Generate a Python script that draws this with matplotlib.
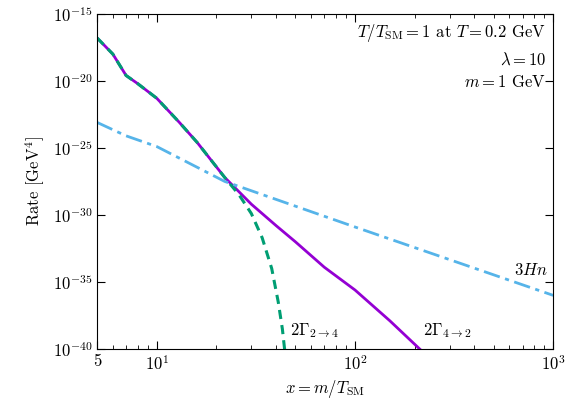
import numpy as np
import matplotlib.pyplot as plt

plt.rcParams['font.family'] = 'cmr10'
plt.rcParams['mathtext.fontset'] = 'cm'
plt.rcParams['axes.formatter.use_mathtext'] = True

# log10 values
x_42 = [5, 6, 7, 8, 10, 13, 16, 22, 30, 40, 50, 70, 100, 150, 212]
logy_42 = [-16.8, -18.0, -19.6, -20.2, -21.3, -23.1, -24.6, -27.2, -29.2, -30.8, -32.0, -33.9, -35.6, -37.9, -40.0]

x_24 = [5, 6, 7, 8, 10, 13, 16, 22, 26, 30, 34, 38, 41, 43, 44.5]
logy_24 = [-16.8, -18.0, -19.6, -20.2, -21.3, -23.1, -24.6, -27.2, -28.5, -29.9, -31.7, -34.0, -36.5, -38.5, -40.5]

x_hn = [5, 7, 10, 22, 100, 1000]
logy_hn = [-23.1, -24.1, -24.9, -27.5, -30.9, -36.0]

fig = plt.figure(figsize=(5.68, 4.07), dpi=100)
ax = fig.add_axes([0.171, 0.1425, 0.803, 0.8235])

ax.plot(x_42, 10.0 ** np.array(logy_42), color='#9400d3', lw=2)
ax.plot(x_24, 10.0 ** np.array(logy_24), color='#009e73', lw=2.2, ls=(0, (3, 2)))
ax.plot(x_hn, 10.0 ** np.array(logy_hn), color='#56b4e9', lw=2, ls=(0, (6, 2, 1.5, 2)))

ax.set_xscale('log')
ax.set_yscale('log')
ax.set_xlim(5, 1000)
ax.set_ylim(1e-40, 1e-15)
ax.set_yticks([10.0 ** k for k in range(-40, -14, 5)])
ax.set_xticks([5, 10, 100, 1000])
ax.set_xticklabels(['5', r'$10^1$', r'$10^2$', r'$10^3$'])
ax.tick_params(which='both', direction='in', top=True, right=True, labelsize=12)
ax.tick_params(which='major', length=6)
ax.tick_params(which='minor', length=3)

ax.set_xlabel(r'$x = m/T_{\rm SM}$', fontsize=12)
ax.set_ylabel(r'Rate [GeV$^4$]', fontsize=12)

ax.text(0.985, 0.975, r'$T/T_{\rm SM} = 1$ at $T = 0.2$ GeV' + '\n' + r'$\lambda = 10$' + '\n' + r'$m = 1$ GeV',
        transform=ax.transAxes, ha='right', va='top', fontsize=12, linespacing=1.5)
ax.text(47, 10.0 ** -38.6, r'$2\Gamma_{2\to4}$', fontsize=12, ha='left', va='center')
ax.text(290, 10.0 ** -38.6, r'$2\Gamma_{4\to2}$', fontsize=12, ha='center', va='center')
ax.text(770, 10.0 ** -34.1, r'$3Hn$', fontsize=12, ha='center', va='center')

fig.savefig('out.png', dpi=100)
